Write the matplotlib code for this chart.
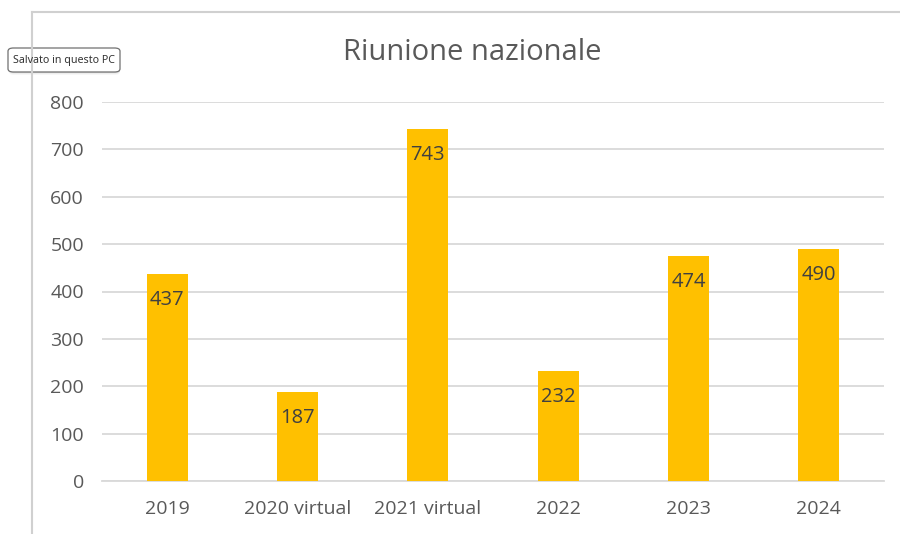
import matplotlib.pyplot as plt
from matplotlib.patches import FancyBboxPatch
from matplotlib.lines import Line2D

plt.rcParams['font.family'] = ['Open Sans', 'DejaVu Sans']

categories = ['2019', '2020 virtual', '2021 virtual', '2022', '2023', '2024']
values = [437, 187, 743, 232, 474, 490]
yticks = [0, 100, 200, 300, 400, 500, 600, 700, 800]

fig = plt.figure(figsize=(9, 5.34), dpi=100)
W, H = 900, 534

# plot area in pixels: x 102..884, y 102..481
ax = fig.add_axes([102 / W, 1 - 481 / H, (884 - 102) / W, (481 - 102) / H])

x = list(range(len(categories)))
ax.bar(x, values, width=0.315, color='#FFC000', zorder=3)

for xi, v in zip(x, values):
    ax.annotate(str(v), (xi, v), xytext=(0, -18.5), textcoords='offset points',
                ha='center', va='center', fontsize=14.5, color='#404040', zorder=4)

ax.set_xlim(-0.5, len(categories) - 0.5)
ax.set_ylim(0, 800)
ax.set_yticks(yticks)
ax.set_xticks(x)
ax.set_xticklabels(categories)
ax.grid(axis='y', color='#D9D9D9', linewidth=1.3, zorder=0)
for s in ['top', 'right', 'left']:
    ax.spines[s].set_visible(False)
ax.spines['bottom'].set_color('#D9D9D9')
ax.spines['bottom'].set_linewidth(1.3)
ax.tick_params(axis='both', length=0, labelsize=14, labelcolor='#595959')
ax.tick_params(axis='x', pad=14)
ax.tick_params(axis='y', pad=13)

fig.text(472 / W, 1 - 52 / H, 'Riunione nazionale', ha='center', va='center',
         fontsize=21, color='#595959')

# chart border (top and left)
fig.add_artist(Line2D([32 / W, 1], [1 - 12 / H, 1 - 12 / H], color='#D0D0D0', lw=1.5))
fig.add_artist(Line2D([32 / W, 32 / W], [0, 1 - 12 / H], color='#D0D0D0', lw=1.5))

# tooltip
for i, a in enumerate([0.05, 0.04, 0.03]):
    sh = FancyBboxPatch((9 / W, 1 - (73 + i) / H), 111 / W, 24 / H,
                        boxstyle='round,pad=0,rounding_size=0.006',
                        transform=fig.transFigure, facecolor='black', alpha=a,
                        edgecolor='none')
    fig.add_artist(sh)
tip = FancyBboxPatch((8 / W, 1 - 72 / H), 112 / W, 24 / H,
                     boxstyle='round,pad=0,rounding_size=0.006',
                     transform=fig.transFigure, facecolor='white',
                     edgecolor='#707070', lw=0.9)
fig.add_artist(tip)
fig.text(64 / W, 1 - 60 / H, 'Salvato in questo PC', ha='center', va='center',
         fontsize=7.7, color='#333333', family=['Noto Sans', 'DejaVu Sans'])

fig.savefig('out.png', dpi=100)
